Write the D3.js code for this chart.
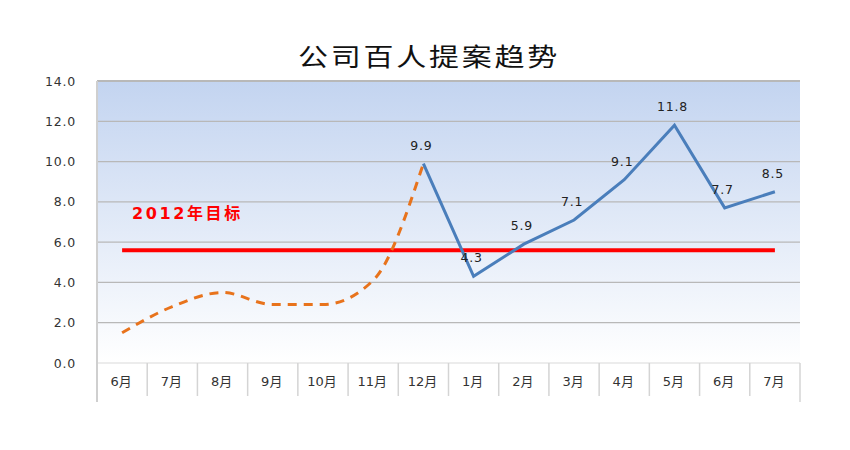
<!DOCTYPE html>
<meta charset="utf-8">
<script src="https://d3js.org/d3.v7.min.js"></script>
<style>
  body { margin: 0; background: #fff; }
</style>
<div id="my_dataviz"></div>
<script>
// data
var months = ["6月", "7月", "8月", "9月", "10月", "11月", "12月", "1月", "2月", "3月", "4月", "5月", "6月", "7月"];
var lastYear = [1.5, 2.8, 3.5, 2.9, 2.9, 4.1, 9.9];          // 6月..12月, dashed
var thisYear = [9.9, 4.3, 5.9, 7.1, 9.1, 11.8, 7.7, 8.5];    // 12月..7月, solid
var thisYearStart = 6;                                       // index of 12月
var target = 5.6;
var yTicks = [0, 2, 4, 6, 8, 10, 12, 14];

var W = 850, H = 450;
var margin = {top: 81, right: 50, bottom: 87, left: 97},
    width = W - margin.left - margin.right,
    height = H - margin.top - margin.bottom;

var svg = d3.select("#my_dataviz")
  .append("svg")
    .attr("width", W)
    .attr("height", H);

var defs = svg.append("defs");
var grad = defs.append("linearGradient")
    .attr("id", "bg").attr("x1", 0).attr("y1", 0).attr("x2", 0).attr("y2", 1);
grad.append("stop").attr("offset", "0%").attr("stop-color", "#c3d4f0");
grad.append("stop").attr("offset", "100%").attr("stop-color", "#ffffff");

var g = svg.append("g")
    .attr("transform", "translate(" + margin.left + "," + margin.top + ")");

var x = d3.scaleBand()
    .domain(d3.range(months.length))
    .range([0, width]);

var y = d3.scaleLinear()
    .domain([0, 14])
    .range([height, 0]);

// plot background
g.append("rect")
    .attr("width", width)
    .attr("height", height)
    .attr("fill", "url(#bg)");

// grid lines
g.selectAll(".grid")
  .data(yTicks)
  .enter().append("line")
    .attr("x1", 0).attr("x2", width)
    .attr("y1", function(d) { return y(d); })
    .attr("y2", function(d) { return y(d); })
    .attr("stroke", function(d) { return d == 0 ? "#e6e6e6" : "#b8b8b8"; })
    .attr("stroke-width", function(d) { return d == 14 ? 2 : 1.3; });

// y axis labels
var yAxis = g.append("g")
    .attr("transform", "translate(-10,0)")
    .call(d3.axisLeft(y).tickValues(yTicks).tickFormat(d3.format(".1f")).tickSize(0));
yAxis.select(".domain").remove();
yAxis.selectAll("text")
    .attr("dx", "-8")
    .style("font-family", "'DejaVu Sans', sans-serif")
    .style("font-size", "12.5px")
    .style("letter-spacing", "0.8px")
    .attr("fill", "#333");

// left axis line and category separators
g.append("line")
    .attr("x1", 0).attr("x2", 0)
    .attr("y1", 0).attr("y2", height + 39)
    .attr("stroke", "#cfcfcf").attr("stroke-width", 2);

g.selectAll(".sep")
  .data(d3.range(1, months.length + 1))
  .enter().append("line")
    .attr("x1", function(i) { return i == months.length ? width : x(i); })
    .attr("x2", function(i) { return i == months.length ? width : x(i); })
    .attr("y1", height)
    .attr("y2", function(i) { return i == months.length ? height + 39 : height + 33; })
    .attr("stroke", "#d4d4d4").attr("stroke-width", 1.5);

// x labels
var xAxis = g.append("g")
    .attr("transform", "translate(0," + height + ")")
    .call(d3.axisBottom(x).tickFormat(function(i) { return months[i]; }).tickSize(0));
xAxis.select(".domain").remove();
xAxis.selectAll("text")
    .attr("dy", "1.55em")
    .attr("dx", "-1")
    .style("font-family", "'DejaVu Sans', 'Noto Sans CJK SC', sans-serif")
    .style("font-size", "13px")
    .attr("fill", "#333");

var cx = function(i) { return x(i) + x.bandwidth() / 2; };

// target line
g.append("line")
    .attr("x1", cx(0)).attr("x2", cx(months.length - 1))
    .attr("y1", y(target)).attr("y2", y(target))
    .attr("stroke", "#ff0000").attr("stroke-width", 4);

g.append("text")
    .attr("x", cx(0) + 10)
    .attr("y", y(target) - 31)
    .attr("fill", "#ff0000")
    .style("font-family", "'DejaVu Sans', 'Noto Sans CJK SC', sans-serif")
    .style("font-size", "16px")
    .style("font-weight", "bold")
    .style("letter-spacing", "2.6px")
    .text("2012年目标");

// dashed smooth line (previous months)
var smooth = d3.line()
    .x(function(d, i) { return cx(i); })
    .y(function(d) { return y(d); })
    .curve(d3.curveMonotoneX);

g.append("path")
    .datum(lastYear)
    .attr("d", smooth)
    .attr("fill", "none")
    .attr("stroke", "#e8731c")
    .attr("stroke-width", 3)
    .attr("stroke-dasharray", "9,7");

// solid line
var straight = d3.line()
    .x(function(d, i) { return cx(i + thisYearStart); })
    .y(function(d) { return y(d); });

g.append("path")
    .datum(thisYear)
    .attr("d", straight)
    .attr("fill", "none")
    .attr("stroke", "#4a7ebb")
    .attr("stroke-width", 3)
    .attr("stroke-linejoin", "miter");

// value labels
g.selectAll(".lbl")
  .data(thisYear)
  .enter().append("text")
    .attr("x", function(d, i) { return cx(i + thisYearStart) - 2; })
    .attr("y", function(d) { return y(d) - 14; })
    .attr("text-anchor", "middle")
    .style("font-family", "'DejaVu Sans', sans-serif")
    .style("font-size", "12.5px")
    .style("letter-spacing", "0.8px")
    .attr("fill", "#222")
    .text(function(d) { return d.toFixed(1); });

// title
svg.append("text")
    .attr("transform", "translate(298,66) scale(1.2,1)")
    .style("font-family", "'Noto Sans CJK SC', sans-serif")
    .style("font-size", "25px")
    .style("letter-spacing", "2.3px")
    .attr("fill", "#111")
    .text("公司百人提案趋势");
</script>
